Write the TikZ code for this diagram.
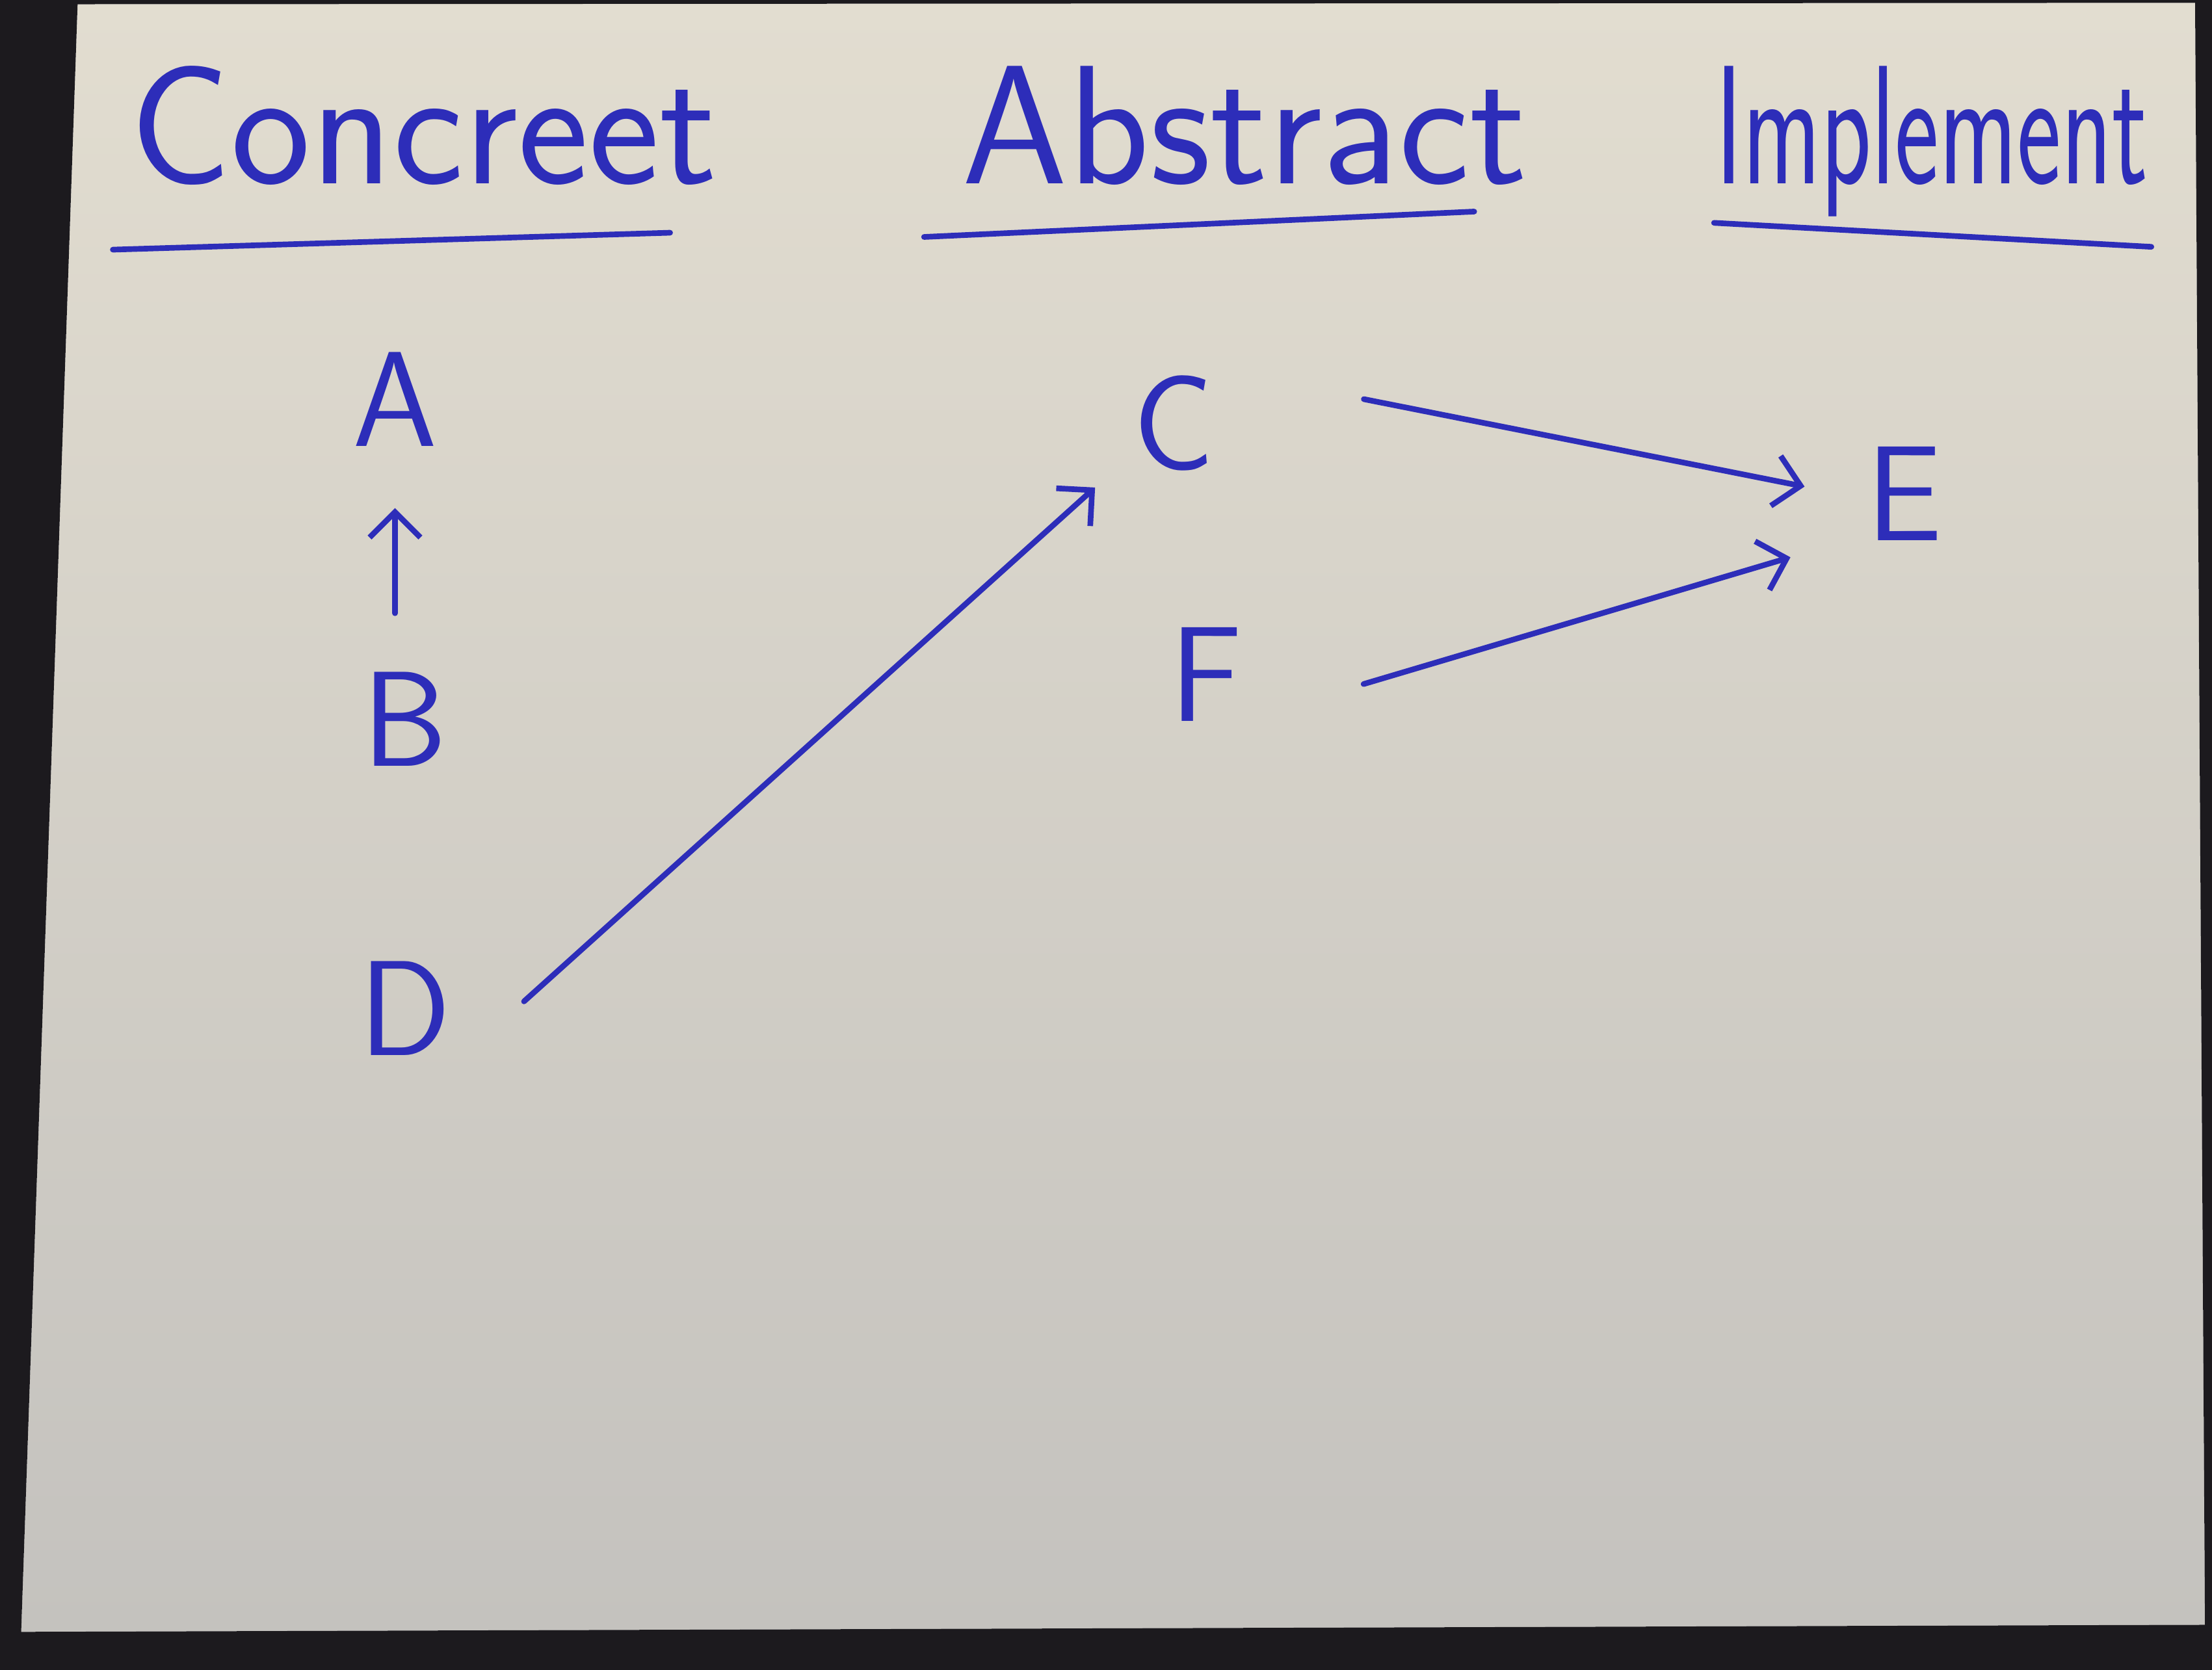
\documentclass[tikz,border=0pt]{standalone}
\usepackage{xcolor}
\usepackage{tikz}
\usetikzlibrary{arrows.meta}

\definecolor{inkblue}{RGB}{45,45,185}
\definecolor{cardtop}{RGB}{226,221,208}
\definecolor{cardbottom}{RGB}{196,194,190}
\definecolor{darkbg}{RGB}{28,26,30}

\tikzset{
  ink/.style={draw=inkblue, line width=2pt, line cap=round, line join=round},
  inkarrow/.style={ink, -{Straight Barb[length=9pt,width=18pt]}},
  letter/.style={text=inkblue, font=\sffamily\fontsize{48}{48}\selectfont, inner sep=0.75pt},
  heading/.style={text=inkblue, font=\sffamily\fontsize{60}{60}\selectfont, inner sep=0.75pt, anchor=base west},
}

\begin{document}
\begin{tikzpicture}[x=0.5pt,y=-0.5pt]
        \useasboundingbox (0,0) rectangle (1568,1184);
        % card
        \shade [top color=cardtop, bottom color=cardbottom] (55,3) -- (1556,2) -- (1563,1152) -- (15,1157) -- cycle ;

        % column headings
        \draw (90,130) node [heading] (concreet) {Concreet};
        \draw (680,130) node [heading] (abstract) {Abstract};
        \draw (1215,130) node [heading, xscale=0.62] (implement) {Implement};
        \draw [ink] ([shift={(-10,47)}]concreet.base west) -- ([shift={(385,35)}]concreet.base west) ;
        \draw [ink] ([shift={(-25,38)}]abstract.base west) -- ([shift={(365,20)}]abstract.base west) ;
        \draw [ink] ([shift={(0,28)}]implement.base west) -- ([shift={(310,45)}]implement.base west) ;

        % letters
        \draw (280,283) node [letter] (a) {A};
        \draw (287,510) node [letter] (b) {B};
        \draw (287,715) node [letter] (d) {D};
        \draw (832,300) node [letter] (c) {C};
        \draw (855,478) node [letter] (f) {F};
        \draw (1350,350) node [letter] (e) {E};

        % arrows
        \draw [inkarrow] ([shift={(-7,-40)}]b.north) -- ([shift={(0,42)}]a.south) ;
        \draw [inkarrow] ([shift={(50,-5)}]d.east) -- ([shift={(-25,10)}]c.south west) ;
        \draw [inkarrow] ([shift={(104,-17)}]c.east) -- ([shift={(-42,-5)}]e.west) ;
        \draw [inkarrow] ([shift={(84,7)}]f.east) -- ([shift={(-52,10)}]e.south west) ;

        % dark surround round the card
        \fill [darkbg, even odd rule] (0,0) rectangle (1568,1184) (55,3) -- (1556,2) -- (1563,1152) -- (15,1157) -- cycle ;
\end{tikzpicture}
\end{document}
